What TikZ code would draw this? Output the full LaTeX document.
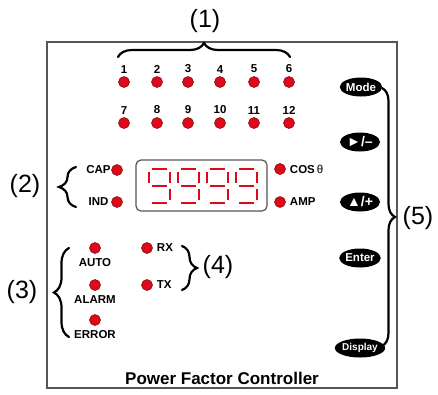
\documentclass[tikz,border=0pt]{standalone}
\usepackage{fontspec}
\setmainfont{Liberation Sans}
\usetikzlibrary{shapes.geometric,decorations.pathreplacing}
\definecolor{ledred}{RGB}{222,10,25}
\definecolor{ledrim}{RGB}{120,0,10}
\definecolor{panelgray}{RGB}{85,85,85}

\begin{document}
\begin{tikzpicture}[x=1bp,y=-1bp]
  \def\ledsize{11bp}
  \def\bracewidth{2.2bp}
  \tikzstyle{led} = [circle, draw=ledrim, fill=ledred, line width=0.5bp, inner sep=0pt, minimum size=\ledsize]
  \tikzstyle{tag} = [font=\fontsize{11.5bp}{13bp}\selectfont\bfseries, inner sep=0pt]
  \tikzstyle{callout} = [font=\fontsize{25bp}{28bp}\selectfont, inner sep=0pt]
  \tikzstyle{button} = [ellipse, fill=black, text=white, inner sep=0pt, minimum width=40bp, minimum height=19bp, font=\fontsize{11.5bp}{13bp}\selectfont\bfseries]
  \tikzstyle{brace} = [decorate, line width=\bracewidth, line cap=round]
  \tikzstyle{seg} = [ledred, line width=2.8bp]

  \useasboundingbox (0,0) rectangle (438,394);

  % panel
  \draw[panelgray, line width=1.5bp] (47,42) rectangle (397,388);

  % output LEDs
  \foreach \i/\x in {1/124,2/157,3/188,4/220,5/254,6/289}
    \node[led] (out\i) [label={[tag, label distance=3bp]above:\i}] at (\x, 82) {};
  \foreach \i/\x in {7/124,8/157,9/188,10/220,11/254,12/289}
    \node[led] (out\i) [label={[tag, label distance=3bp]above:\i}] at (\x, 123) {};

  % display
  \node[draw=panelgray, line width=1.2bp, rounded corners=5bp, minimum width=131bp, minimum height=51bp] (screen) at (201.5, 185.5) {};
  \foreach \x in {148,177,206,235} {
    \draw[seg] (\x+4, 169) -- (\x+19, 169);
    \draw[seg] (\x+1, 172) -- (\x+1, 183);
    \draw[seg] (\x+22, 172) -- (\x+22, 183);
    \draw[seg] (\x+4, 186) -- (\x+19, 186);
    \draw[seg] (\x+22, 189) -- (\x+22, 200);
    \draw[seg] (\x+4, 203) -- (\x+19, 203);
  }

  \node[led] (cap) [label={[tag, label distance=0.5bp]left:CAP}] at (117, 170) {};
  \node[led] (ind) [label={[tag, label distance=2.5bp]left:IND}] at (117, 202) {};
  \node[led] (cos) [label={[tag, label distance=4bp]right:COS\,{\mdseries θ}}] at (280, 169) {};
  \node[led] (amp) [label={[tag, label distance=4bp]right:AMP}] at (280, 202) {};

  % status LEDs
  \node[led] (auto) [label={[tag, label distance=5bp]below:AUTO}] at (95, 248) {};
  \node[led] (alarm) [label={[tag, label distance=5bp]below:ALARM}] at (95, 285) {};
  \node[led] (error) [label={[tag, label distance=5bp]below:ERROR}] at (95, 320) {};
  \node[led] (rx) [label={[tag, label distance=4bp]right:RX}] at (147, 248) {};
  \node[led] (tx) [label={[tag, label distance=4bp]right:TX}] at (147, 285) {};

  % keys
  \node[button] (mode) at (361, 87) {Mode};
  \node[button, font=\fontsize{14bp}{16bp}\selectfont\bfseries] (minus) at (360, 142) {►/–};
  \node[button, font=\fontsize{14bp}{16bp}\selectfont\bfseries] (plus) at (360, 202) {▲/+};
  \node[button] (enter) at (360, 258) {Enter};
  \node[button, minimum width=38bp, font=\fontsize{10bp}{12bp}\selectfont\bfseries] (show) at (360, 348) {Display};

  \node[font=\fontsize{17bp}{20bp}\selectfont\bfseries] (title) at (222, 378) {Power Factor Controller};

  % braces and callouts
  \coordinate (b1a) at (118, 57);
  \coordinate (b1b) at (290, 57);
  \draw[brace, decoration={brace, amplitude=14bp}] (b1a) -- (b1b);
  \node[callout] (c1) at (205, 21) {(1)};

  \coordinate (b2a) at (76, 207);
  \coordinate (b2b) at (76, 167);
  \draw[brace, decoration={brace, amplitude=17bp}] (b2a) -- (b2b);
  \node[callout] (c2) at (25, 186) {(2)};

  \coordinate (b3a) at (69, 337);
  \coordinate (b3b) at (69, 248);
  \draw[brace, decoration={brace, amplitude=15bp}] (b3a) -- (b3b);
  \node[callout] (c3) at (22, 292) {(3)};

  \coordinate (b4a) at (182, 246);
  \coordinate (b4b) at (182, 290);
  \draw[brace, decoration={brace, amplitude=15bp}] (b4a) -- (b4b);
  \node[callout] (c4) at (218, 267) {(4)};

  \coordinate (b5a) at (382, 88);
  \coordinate (b5b) at (382, 346);
  \draw[brace, decoration={brace, amplitude=13bp}] (b5a) -- (b5b);
  \node[callout] (c5) at (418, 218) {(5)};
\end{tikzpicture}
\end{document}
